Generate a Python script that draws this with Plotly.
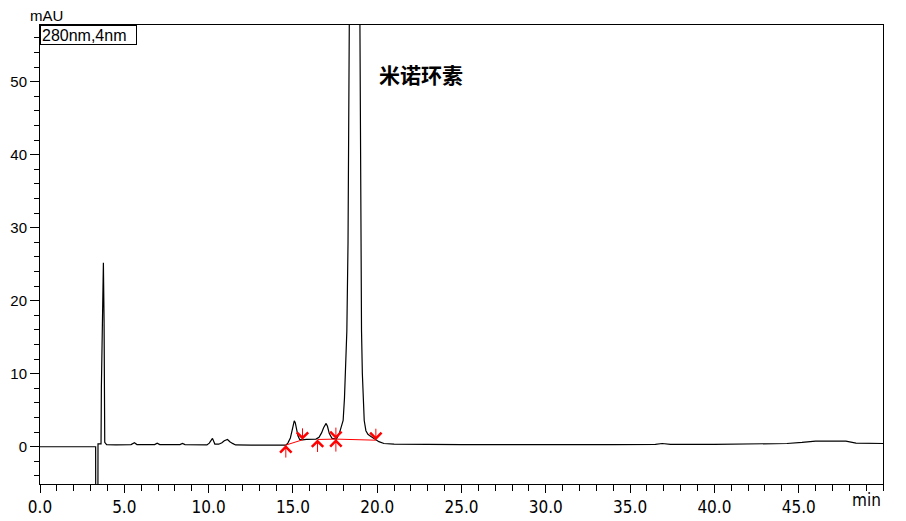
import plotly.graph_objects as go

# 280 nm trace (retention time in min, absorbance in mAU)
time_min = [
    0.0, 3.30, 3.32, 3.42, 3.44, 3.62, 3.64, 3.70, 3.76, 3.80, 3.84, 3.95,
    4.5, 5.4, 5.6, 5.75, 6.8, 6.95, 7.1, 8.3, 8.45, 8.6,
    9.9, 10.04, 10.23, 10.37, 10.6, 10.79, 10.93, 11.12, 11.26, 11.42, 11.6,
    12.5, 14.0, 14.58, 14.70, 14.85, 14.95, 15.02, 15.08, 15.14, 15.22, 15.30, 15.40, 15.57,
    15.8, 16.2, 16.37, 16.55, 16.70, 16.82, 16.92, 16.97, 17.05, 17.16, 17.32, 17.45,
    17.58, 17.75, 17.90, 17.98, 18.06, 18.13, 18.20, 18.27, 18.34, 18.42, 18.50, 18.58,
    18.65, 18.72, 18.80, 18.88, 18.97, 19.03, 19.07, 19.12, 19.17, 19.23, 19.33, 19.45,
    19.63, 19.92, 20.1, 20.4, 21.0, 25.0, 28.0, 30.0, 34.0, 36.5, 36.9, 37.4,
    40.0, 42.0, 44.3, 45.2, 46.0, 47.8, 48.4, 50.0,
]
signal_mau = [
    0.0, 0.0, -30.0, -30.0, 0.4, 0.4, 8.0, 17.5, 25.2, 17.3, 0.6, 0.3,
    0.25, 0.3, 0.55, 0.3, 0.3, 0.5, 0.3, 0.3, 0.46, 0.3,
    0.25, 0.5, 1.15, 0.37, 0.35, 0.55, 0.82, 1.0, 0.68, 0.46, 0.25,
    0.22, 0.22, 0.23, 0.5, 1.2, 2.2, 3.2, 3.56, 3.3, 2.3, 1.5, 1.0, 0.95,
    1.0, 1.0, 1.05, 1.3, 1.9, 2.6, 3.1, 3.2, 2.8, 1.8, 1.15, 1.1,
    1.05, 1.8, 2.8, 3.6, 6.7, 10.5, 15.9, 28.0, 57.7, 100.0, 145.0, 172.0,
    180.0, 172.0, 145.0, 100.0, 57.7, 28.0, 15.9, 10.0, 6.7, 3.6, 2.2, 1.7,
    1.4, 1.0, 0.7, 0.45, 0.35, 0.3, 0.25, 0.3, 0.3, 0.33, 0.45, 0.33,
    0.33, 0.4, 0.45, 0.6, 0.78, 0.78, 0.5, 0.45,
]

# integration events
peak_start = [14.58, 16.46, 17.55]
peak_start_mau = [0.23, 1.0, 1.05]
peak_end = [15.57, 17.55, 19.92]
peak_end_mau = [0.95, 1.05, 0.9]

peak_name = "米诺环素"
peak_name_pos = (20.0, 51.1)

x_ticks = [0, 5, 10, 15, 20, 25, 30, 35, 40, 45]
y_ticks = [0, 10, 20, 30, 40, 50]

TICK_FONT = "Liberation Sans Narrow, Arial Narrow, DejaVu Sans Condensed, sans-serif"
TEXT_FONT = "Liberation Sans, Arial, sans-serif"

base_x, base_y = [], []
for s, sv, e, ev in zip(peak_start, peak_start_mau, peak_end, peak_end_mau):
    base_x += [s, e, None]
    base_y += [sv, ev, None]

fig = go.Figure()
fig.add_trace(go.Scatter(x=time_min, y=signal_mau, mode="lines",
                         line=dict(color="black", width=1.2), showlegend=False))
fig.add_trace(go.Scatter(x=base_x, y=base_y, mode="lines",
                         line=dict(color="red", width=1), showlegend=False))

# event arrows: up at peak start, down at peak end
for t, v in zip(peak_start, peak_start_mau):
    fig.add_annotation(x=t, y=v, ax=0, ay=14, text="", showarrow=True,
                       arrowhead=4, arrowsize=2.2, arrowwidth=1, arrowcolor="red")
for t, v in zip(peak_end, peak_end_mau):
    fig.add_annotation(x=t, y=v, ax=0, ay=-13, text="", showarrow=True,
                       arrowhead=4, arrowsize=2.2, arrowwidth=1, arrowcolor="red")

fig.add_annotation(x=peak_name_pos[0], y=peak_name_pos[1], text="<b>" + peak_name + "</b>",
                   showarrow=False, xanchor="left", yanchor="middle",
                   font=dict(family="Noto Sans CJK SC", size=21, color="black"))

fig.add_annotation(xref="paper", yref="paper", x=0, y=1, xanchor="left", yanchor="top",
                   text="280nm,4nm", showarrow=False, align="left", width=93, height=16,
                   bordercolor="black", borderwidth=1, borderpad=1, bgcolor="white",
                   font=dict(family=TEXT_FONT, size=16, color="black"))
fig.add_annotation(xref="paper", yref="paper", x=0, y=1, xanchor="right", yanchor="bottom",
                   xshift=25, yshift=-1, text="mAU", showarrow=False,
                   font=dict(family=TEXT_FONT, size=15, color="black"))
fig.add_annotation(x=50, xref="x", yref="paper", y=0, xanchor="right", yanchor="top",
                   yshift=-4, text="min", showarrow=False,
                   font=dict(family=TICK_FONT, size=17, color="black"))

fig.update_xaxes(range=[0, 50], tickvals=x_ticks, ticktext=[f"{v:.1f}" for v in x_ticks],
                 ticks="outside", ticklen=8, tickcolor="black", showline=True,
                 linecolor="black", linewidth=1, mirror=True, showgrid=False, zeroline=False,
                 automargin=False,
                 tickfont=dict(family=TICK_FONT, size=17, color="black"),
                 minor=dict(dtick=1, ticks="outside", ticklen=6, tickcolor="black"))
fig.update_yaxes(range=[-5.1, 57.77], tickvals=y_ticks, ticks="outside", ticklen=9,
                 tickcolor="black", showline=True, linecolor="black", linewidth=1,
                 mirror=True, showgrid=False, zeroline=False, automargin=False,
                 tickfont=dict(family=TEXT_FONT, size=15, color="black"),
                 minor=dict(dtick=2, ticks="outside", ticklen=5, tickcolor="black"))

# page body keeps its 8px default margin, so size and margins allow for it
fig.update_layout(width=898, height=513, margin=dict(l=32, r=23, t=17, b=37),
                  paper_bgcolor="white", plot_bgcolor="white", showlegend=False)

fig.write_html("out.html")
